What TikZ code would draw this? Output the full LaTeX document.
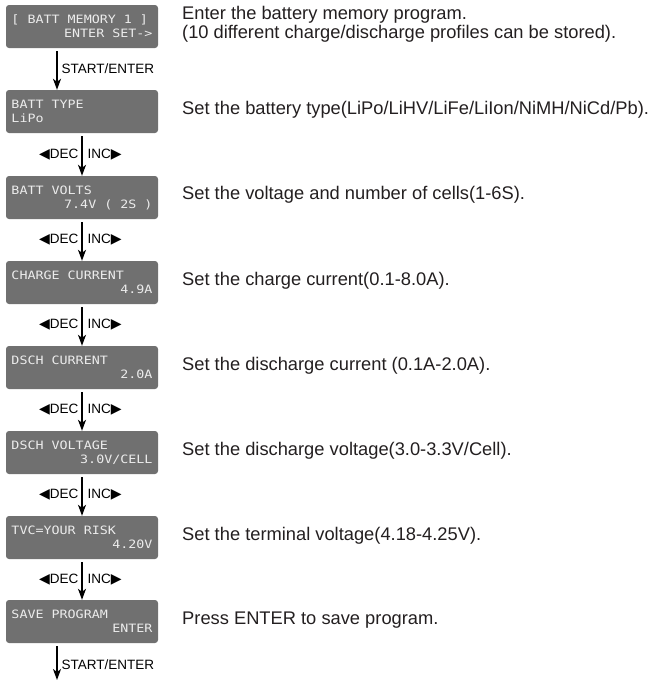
\documentclass[tikz,border=0pt]{standalone}
\usepackage{fontspec}
\setmainfont{Liberation Sans}
\newfontfamily\lcdfont[FakeStretch=1.16]{DejaVu Sans Mono}
\newfontfamily\symfont{DejaVu Sans}
\usetikzlibrary{arrows.meta}

\definecolor{lcdgray}{RGB}{112,112,112}
\definecolor{lcdtext}{RGB}{236,236,236}
\definecolor{inktext}{RGB}{35,31,32}

\newcommand{\decsym}{{\symfont\fontsize{14}{14}\selectfont ◀}}
\newcommand{\incsym}{{\symfont\fontsize{14}{14}\selectfont ▶}}
\newcommand{\lcdspacing}{\spaceskip 8.03pt\relax\xspaceskip 8.03pt\relax}

\tikzset{
    lcd/.style={rectangle, rounded corners=3pt, fill=lcdgray,
        minimum width=152pt, minimum height=43pt, inner sep=0pt,
        text width=141pt, align=left, text=lcdtext,
        font=\lcdfont\fontsize{11.5}{14}\selectfont,
        execute at begin node=\lcdspacing},
    desc/.style={anchor=west, inner sep=0pt, align=left, text=inktext,
        font=\fontsize{18.3}{19}\selectfont},
    flow/.style={line width=1.3pt, shorten <=3pt,
        -{Stealth[length=11pt,width=8pt,inset=3pt]}},
    keylbl/.style={inner sep=0pt, text=black, font=\fontsize{13.5}{14}\selectfont}
}

\begin{document}
\begin{tikzpicture}[x=1pt,y=-1pt]
        \useasboundingbox (0,0) rectangle (658,681);

        % Battery memory
        \node[lcd] (mem) at (82,26.5) {{[} BATT MEMORY 1 ]\\\mbox{}\hfill ENTER SET->};
        \node[desc] (memtxt) at (182,24)
            {Enter the battery memory program.\\(10 different charge/discharge profiles can be stored).};

        % Battery type
        \node[lcd] (type) at (82,111.5) {BATT TYPE\\LiPo};
        \node[desc] (typetxt) at (182,109.5)
            {Set the battery type(LiPo/LiHV/LiFe/LiIon/NiMH/NiCd/Pb).};

        % Battery volts
        \node[lcd] (volts) at (82,197.5) {BATT VOLTS\\\mbox{}\hfill 7.4V ( 2S )};
        \node[desc] (voltstxt) at (182,195)
            {Set the voltage and number of cells(1-6S).};

        % Charge current
        \node[lcd] (chg) at (82,282.5) {CHARGE CURRENT\\\mbox{}\hfill 4.9A};
        \node[desc] (chgtxt) at (182,280.5)
            {Set the charge current(0.1-8.0A).};

        % Discharge current
        \node[lcd] (dsch) at (82,367.5) {DSCH CURRENT\\\mbox{}\hfill 2.0A};
        \node[desc] (dschtxt) at (182,365.5)
            {Set the discharge current (0.1A-2.0A).};

        % Discharge voltage
        \node[lcd] (dvolt) at (82,452.5) {DSCH VOLTAGE\\\mbox{}\hfill 3.0V/CELL};
        \node[desc] (dvolttxt) at (182,451)
            {Set the discharge voltage(3.0-3.3V/Cell).};

        % Terminal voltage
        \node[lcd] (tvc) at (82,537.5) {TVC=YOUR RISK\\\mbox{}\hfill 4.20V};
        \node[desc] (tvctxt) at (182,536)
            {Set the terminal voltage(4.18-4.25V).};

        % Save program
        \node[lcd] (save) at (82,621.5) {SAVE PROGRAM\\\mbox{}\hfill ENTER};
        \node[desc] (savetxt) at (182,620)
            {Press ENTER to save program.};

        \coordinate (done) at (57,680);

        % Key arrows
        \draw[flow] ([xshift=-25pt]mem.south) -- node[keylbl, right=4pt] {START/ENTER} ([xshift=-25pt]type.north);
        \draw[flow] (type.south) -- node[keylbl, left=3pt] {\decsym DEC} node[keylbl, right=5pt] {INC\incsym} (volts.north);
        \draw[flow] (volts.south) -- node[keylbl, left=3pt] {\decsym DEC} node[keylbl, right=5pt] {INC\incsym} (chg.north);
        \draw[flow] (chg.south) -- node[keylbl, left=3pt] {\decsym DEC} node[keylbl, right=5pt] {INC\incsym} (dsch.north);
        \draw[flow] (dsch.south) -- node[keylbl, left=3pt] {\decsym DEC} node[keylbl, right=5pt] {INC\incsym} (dvolt.north);
        \draw[flow] (dvolt.south) -- node[keylbl, left=3pt] {\decsym DEC} node[keylbl, right=5pt] {INC\incsym} (tvc.north);
        \draw[flow] (tvc.south) -- node[keylbl, left=3pt] {\decsym DEC} node[keylbl, right=5pt] {INC\incsym} (save.north);
        \draw[flow] ([xshift=-25pt]save.south) -- node[keylbl, right=4pt, yshift=-3pt] {START/ENTER} (done);
    \end{tikzpicture}
\end{document}
